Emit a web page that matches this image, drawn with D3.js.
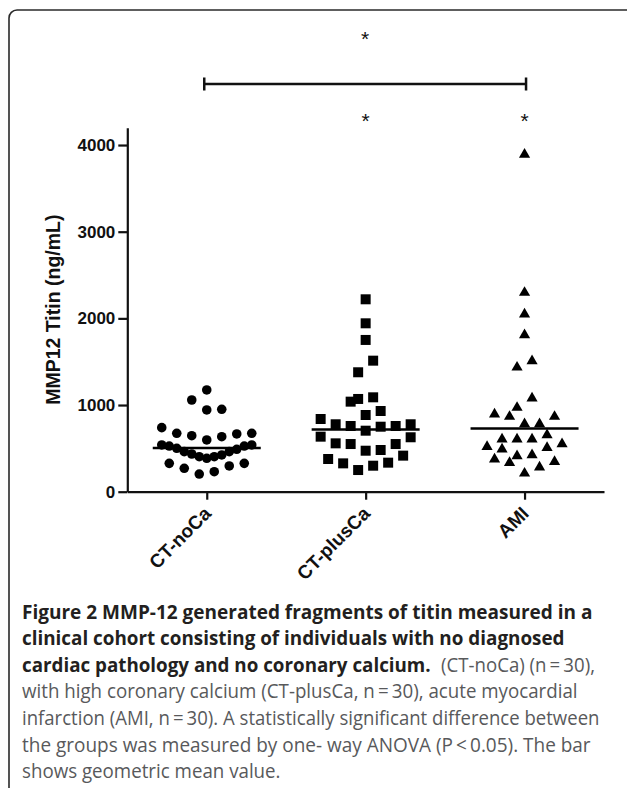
<!DOCTYPE html>
<html>
<head>
<meta charset="utf-8">
<script src="https://cdn.jsdelivr.net/npm/d3@7"></script>
<style>
body { margin: 0; background: #fff; }
svg { display: block; }
</style>
</head>
<body>
<svg id="chart" width="627" height="788"></svg>
<script>
// groups and values (ng/mL)
var groups = ["CT-noCa", "CT-plusCa", "AMI"];
var ctNoCa = [1174, 1058, 951, 943, 739, 674, 674, 666, 646, 635, 597, 539, 539, 527, 527, 501, 489, 462, 462, 435, 424, 404, 404, 385, 327, 327, 297, 270, 231, 204];
var ctPlusCa = [2220, 1943, 1751, 1512, 1378, 1089, 1070, 1039, 931, 885, 839, 778, 778, 758, 758, 750, 704, 635, 628, 558, 550, 550, 481, 473, 416, 377, 335, 327, 300, 250];
var ami = [3890, 2297, 2047, 1808, 1508, 1435, 1078, 970, 893, 866, 866, 781, 781, 654, 605, 605, 605, 550, 519, 508, 489, 424, 412, 374, 346, 335, 282, 212];
var yTicks = [0, 1000, 2000, 3000, 4000];
var yMax = 4200;
var yLabel = "MMP12 Titin (ng/mL)";
var groupStars = ["", "*", "*"];
var bracketGroups = ["CT-noCa", "AMI"];
var bracketStar = "*";

var captionBold = [
    "Figure 2 MMP-12 generated fragments of titin measured in a",
    "clinical cohort consisting of individuals with no diagnosed",
    "cardiac pathology and no coronary calcium."
];
var captionPlain = [
    "(CT-noCa) (n\u2009=\u200930),",
    "with high coronary calcium (CT-plusCa, n\u2009=\u200930), acute myocardial",
    "infarction (AMI, n\u2009=\u200930). A statistically significant difference between",
    "the groups was measured by one- way ANOVA (P\u2009<\u20090.05). The bar",
    "shows geometric mean value."
];

var svg = d3.select("#chart");

// frame round the figure
svg.append("rect")
    .attr("x", 9).attr("y", 10)
    .attr("width", 800).attr("height", 900)
    .attr("rx", 8)
    .attr("fill", "none")
    .attr("stroke", "#2a2a2a")
    .attr("stroke-width", 1.6);

var x = d3.scalePoint().domain(groups).range([127.3, 604]).padding(0.5);
var y = d3.scaleLinear().domain([0, yMax]).range([491.7, 127.7]);

var g = svg.append("g");

// y axis
var yAxis = g.append("g")
    .attr("transform", "translate(127.3,0)")
    .call(d3.axisLeft(y).tickValues(yTicks).tickSize(9).tickSizeOuter(0).tickPadding(3).tickFormat(d3.format("d")));
// x axis
var xAxis = g.append("g")
    .attr("transform", "translate(0,491.7)")
    .call(d3.axisBottom(x).tickSize(8).tickSizeOuter(0));

[yAxis, xAxis].forEach(function(a) {
    a.select(".domain").attr("stroke", "#111").attr("stroke-width", 2.2);
    a.selectAll(".tick line").attr("stroke", "#111").attr("stroke-width", 2.2);
    a.selectAll(".tick text")
        .attr("fill", "#111")
        .style("font-family", "'Liberation Sans', Arial, sans-serif")
        .style("font-weight", "bold")
        .style("font-size", "17px");
});

xAxis.selectAll(".tick text")
    .style("font-size", "19px")
    .attr("x", 0).attr("y", 0).attr("dy", 0)
    .attr("text-anchor", "end")
    .attr("transform", "translate(5,23) rotate(-45)");

g.append("text")
    .attr("transform", "translate(59.5," + ((y.range()[0] + y.range()[1]) / 2) + ") rotate(-90)")
    .attr("text-anchor", "middle")
    .style("font-family", "'Liberation Sans', Arial, sans-serif")
    .style("font-weight", "bold")
    .style("font-size", "19.5px")
    .attr("fill", "#111")
    .text(yLabel);

// column scatter: values close together (one row) are spread sideways
var rowPx = 15, slotPx = 15, maxSpread = 90;
function layoutColumn(values, cx) {
    var sorted = values.slice().sort(d3.ascending);
    var rows = [], row = null;
    sorted.forEach(function(v) {
        if (row && y(row[0]) - y(v) < rowPx) {
            row.push(v);
        } else {
            row = [v];
            rows.push(row);
        }
    });
    var pts = [];
    rows.forEach(function(r) {
        var n = r.length;
        var step = n > 1 ? Math.min(slotPx, maxSpread / (n - 1)) : 0;
        r.forEach(function(v, i) {
            var slot;
            if (n % 2) slot = i == 0 ? 0 : (i % 2 ? (i + 1) / 2 : -i / 2);
            else slot = (i % 2 ? 1 : -1) * (Math.floor(i / 2) + 0.5);
            pts.push({v: v, x: cx + slot * step, y: y(v)});
        });
    });
    return pts;
}

var series = [ctNoCa, ctPlusCa, ami];
var shapes = [d3.symbolCircle, d3.symbolSquare, d3.symbolTriangle];
var sizes = [72, 100, 54];

series.forEach(function(vals, k) {
    var cx = x(groups[k]);
    var pts = layoutColumn(vals, cx);
    g.append("g").selectAll("path")
        .data(pts).enter().append("path")
        .attr("transform", function(d) { return "translate(" + d.x + "," + d.y + ")"; })
        .attr("d", d3.symbol().type(shapes[k]).size(sizes[k]))
        .attr("fill", "#000");

    // geometric mean bar
    var gm = Math.exp(d3.mean(vals, Math.log));
    g.append("line")
        .attr("x1", cx - 54).attr("x2", cx + 54)
        .attr("y1", y(gm)).attr("y2", y(gm))
        .attr("stroke", "#000").attr("stroke-width", 2.4);

    if (groupStars[k]) {
        g.append("text")
            .attr("x", cx).attr("y", 128)
            .attr("text-anchor", "middle")
            .style("font-family", "'Liberation Sans', Arial, sans-serif")
            .style("font-size", "21px")
            .attr("fill", "#111")
            .text(groupStars[k]);
    }
});

// significance bracket
var bx1 = x(bracketGroups[0]) - 2.5, bx2 = x(bracketGroups[1]) + 1.5, by = 84;
g.append("path")
    .attr("d", "M" + bx1 + "," + (by - 6.5) + "V" + (by + 6.5) + "M" + bx1 + "," + by + "H" + bx2 + "M" + bx2 + "," + (by - 6.5) + "V" + (by + 6.5))
    .attr("fill", "none").attr("stroke", "#111").attr("stroke-width", 2.5);
g.append("text")
    .attr("x", (bx1 + bx2) / 2).attr("y", 46)
    .attr("text-anchor", "middle")
    .style("font-family", "'Liberation Sans', Arial, sans-serif")
    .style("font-size", "21px")
    .attr("fill", "#111")
    .text(bracketStar);

// caption, each line squeezed sideways to the width it has in the figure
var capX = 22, capY0 = 618.5, capLH = 26.6;
var boldEnds = [593, 565, 431];
var plainStarts = [441, capX, capX, capX, capX];
var plainEnds = [595, 578, 600, 591, null];
var plainRows = [2, 3, 4, 5, 6];

var cap = svg.append("g")
    .style("font-family", "'Open Sans', 'Noto Sans', sans-serif")
    .style("font-size", "20px");

function squeeze(sel, x0, y0, w) {
    var nat = sel.node().getComputedTextLength();
    sel.attr("transform", "translate(" + x0 + "," + y0 + ") scale(" + (w / nat) + ",1)");
    return w / nat;
}

captionBold.forEach(function(t, i) {
    var tx = cap.append("text")
        .attr("fill", "#231f20")
        .style("font-weight", "bold")
        .text(t);
    squeeze(tx, capX, capY0 + i * capLH, boldEnds[i] - capX);
});

var plainNodes = captionPlain.map(function(t, i) {
    return cap.append("text")
        .attr("fill", "#58595b")
        .text(t);
});
var ratios = [];
plainNodes.forEach(function(n, i) {
    if (plainEnds[i] != null) ratios.push((plainEnds[i] - plainStarts[i]) / n.node().getComputedTextLength());
});
var avgRatio = d3.mean(ratios);
plainNodes.forEach(function(n, i) {
    var w = plainEnds[i] != null ? plainEnds[i] - plainStarts[i] : n.node().getComputedTextLength() * avgRatio;
    squeeze(n, plainStarts[i], capY0 + plainRows[i] * capLH, w);
});
</script>
</body>
</html>
